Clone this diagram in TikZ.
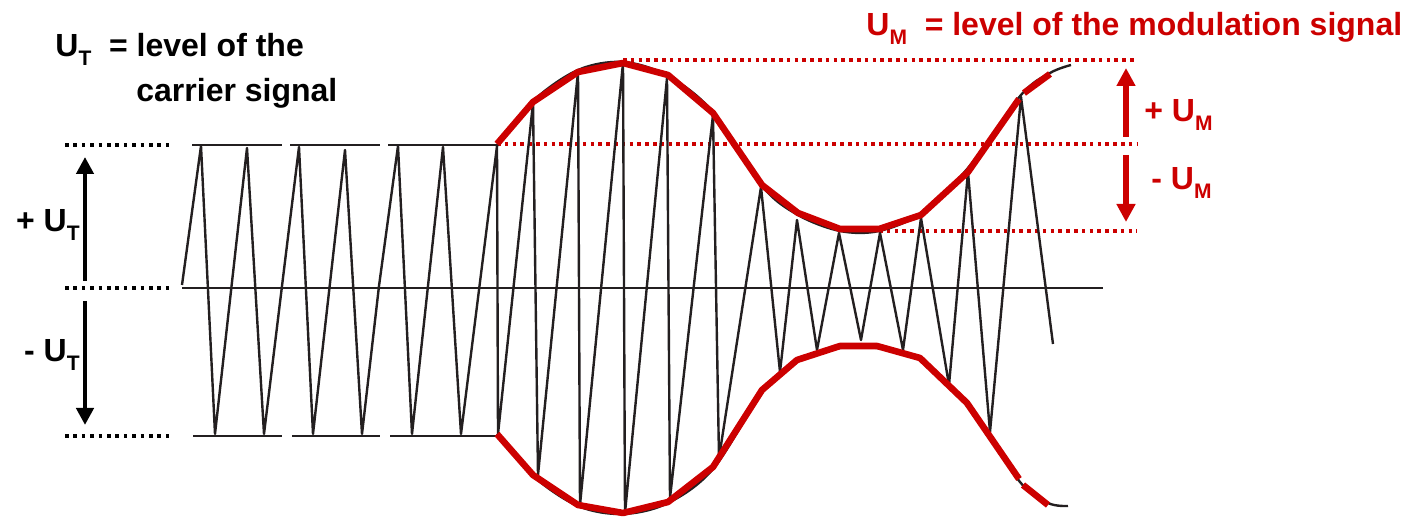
\documentclass[tikz,border=0pt]{standalone}
\usepackage{fontspec}
\setmainfont{Liberation Sans}
\usetikzlibrary{arrows.meta}
\definecolor{modred}{RGB}{204,0,0}
\definecolor{ink}{RGB}{35,31,32}
\newcommand\lowsub[1]{\raisebox{-0.26em}{\fontsize{10.5}{12}\selectfont #1}}
\begin{document}
\begin{tikzpicture}[x=0.5pt,y=-0.5pt,line join=round,
	txt/.style={inner sep=0pt,font=\bfseries\fontsize{16}{19}\selectfont},
	wave/.style={ink,line width=1.2pt},
	clampline/.style={ink,line width=1.3pt},
	leveldots/.style={black,line width=1.7pt,dash pattern=on 1.8pt off 2.4pt},
	reddots/.style={modred,line width=1.8pt,dash pattern=on 1.8pt off 2.1pt},
	envelope/.style={modred,line width=3.3pt},
	blackarrow/.style={black,line width=2.3pt,-{Triangle[width=8.5pt,length=8.5pt]}},
	redarrow/.style={modred,line width=2.8pt,-{Triangle[width=9pt,length=9pt]}}]
	\useasboundingbox (0,0) rectangle (1410,517);
	\path
	(85,281) coordinate (UTup0)
	(85,157) coordinate (UTup1)
	(85,301) coordinate (UTdn0)
	(85,425) coordinate (UTdn1)
	(1126,137) coordinate (UMup0)
	(1126,68) coordinate (UMup1)
	(1126,155) coordinate (UMdn0)
	(1126,222) coordinate (UMdn1)
	;
	% labels
	\node[txt,anchor=base west] (carrierlbl) at (55,57) {U\lowsub{T}\ \ = level of the};
	\node[txt,anchor=base west] (carrierlbl2) at (136,102) {carrier signal};
	\node[txt,anchor=base west,modred] (modlbl) at (866,36) {U\lowsub{M}\ \ = level of the modulation signal};
	\node[txt,anchor=base east] (plusUT) at (80,232) {+ U\lowsub{T}};
	\node[txt,anchor=base east] (minusUT) at (80,362) {- U\lowsub{T}};
	\node[txt,anchor=base east,modred] (plusUM) at (1213,122) {+ U\lowsub{M}};
	\node[txt,anchor=base east,modred] (minusUM) at (1212,190) {- U\lowsub{M}};
	% levels
	\foreach \y in {145,288,436}
	\draw[leveldots] (65,\y) -- (172,\y);
	\foreach \a/\b/\c in {192/282/193,290/380/292,388/497/390}
	{\draw[clampline] (\a,145) -- (\b,145);
	\draw[clampline] (\c,436) -- (\b,436);}
	\draw[reddots] (623,60) -- (1137,60);
	\draw[reddots] (497,144) -- (1137,144);
	\draw[reddots] (879,231) -- (1137,231);
	\draw[wave] (182,288) -- (1103,288);
	% carrier and modulated wave
	\draw[wave] (182,285) -- (201,146) -- (215,434) -- (247,148) -- (264,434) -- (282,286)
	-- (299,147) -- (313,434) -- (345,150) -- (362,434) -- (379,286)
	-- (398,146) -- (412,434) -- (443,147) -- (461,434) -- (497,146) -- (498,434)
	-- (533,103) -- (538,475) -- (578,72) -- (580,505) -- (623,63) -- (625,513)
	-- (667,78) -- (670,498) -- (713,115) -- (719,458) -- (761,187) -- (780,372)
	-- (797,220) -- (817,350) -- (839,233) -- (861,340) -- (880,233) -- (903,350)
	-- (921,218) -- (949,385) -- (968,172) -- (990,432) -- (1021,97) -- (1053,344);
	% envelopes
	\draw[wave] plot[smooth,tension=0.55] coordinates {(497,146) (533,101) (578,70) (623,62)
		(668,76) (713,112) (762,186) (798,215) (840,231) (879,231) (921,213) (968,168)
		(1021,95) (1050,73) (1071,65)};
	\draw[wave] plot[smooth,tension=0.55] coordinates {(497,434) (533,476) (578,506) (623,514)
		(668,503) (713,469) (762,393) (797,362) (840,348) (877,348) (920,360) (967,406)
		(1020,482) (1048,503) (1068,506)};
	\draw[envelope] (497,144) -- (533,102) -- (578,72) -- (623,63) -- (668,75) -- (713,113)
	-- (762,185) -- (798,213) -- (840,229) -- (879,229) -- (921,215) -- (968,172) -- (1019,99);
	\draw[envelope] (1024,93) -- (1050,74);
	\draw[envelope] (497,434) -- (533,475) -- (578,505) -- (623,513) -- (668,502) -- (713,467)
	-- (762,390) -- (797,360) -- (840,346) -- (877,346) -- (920,358) -- (967,403) -- (1019,479);
	\draw[envelope] (1023,485) -- (1048,505);
	% amplitude arrows
	\draw[blackarrow] (UTup0) -- (UTup1);
	\draw[blackarrow] (UTdn0) -- (UTdn1);
	\draw[redarrow] (UMup0) -- (UMup1);
	\draw[redarrow] (UMdn0) -- (UMdn1);
\end{tikzpicture}
\end{document}
